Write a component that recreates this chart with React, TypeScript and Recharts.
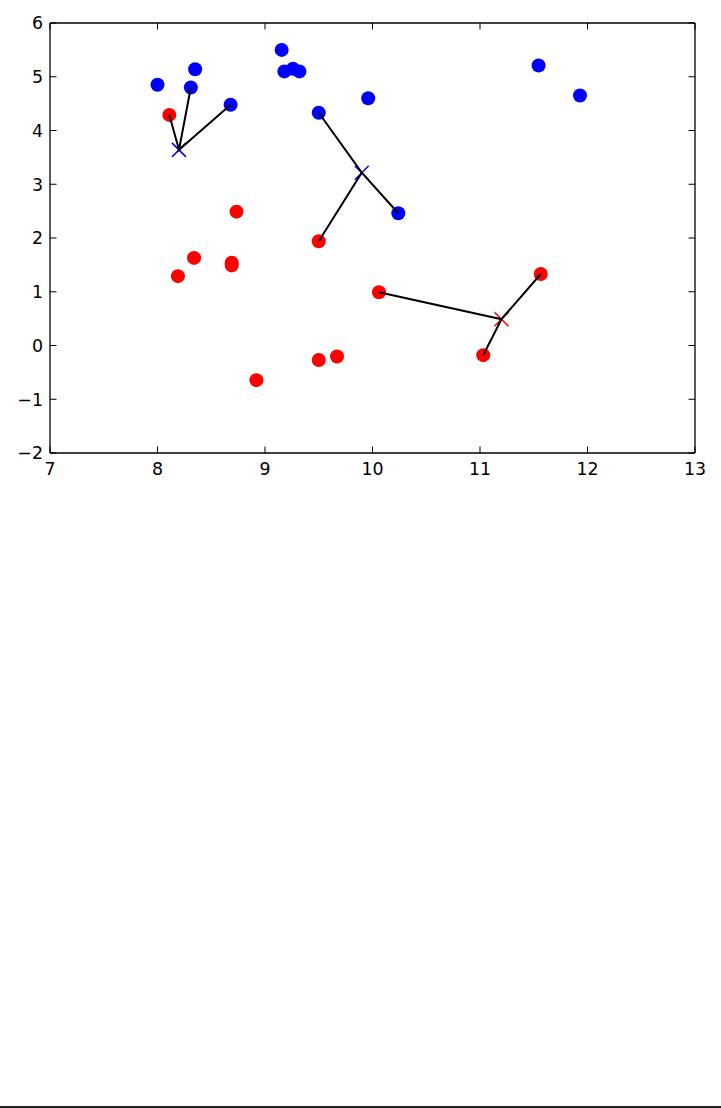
import { Scatter, ScatterChart, XAxis, YAxis } from "recharts";

// blue cluster points
const blueX = [8.0, 8.31, 8.35, 8.68, 9.155, 9.18, 9.26, 9.32, 9.5, 9.96, 10.24, 11.545, 11.93];
const blueY = [4.85, 4.8, 5.14, 4.48, 5.5, 5.1, 5.15, 5.1, 4.33, 4.6, 2.46, 5.21, 4.65];

// red cluster points
const redX = [8.11, 8.735, 9.5, 8.19, 8.34, 8.69, 8.69, 8.92, 9.5, 9.67, 10.06, 11.03, 11.565];
const redY = [4.29, 2.49, 1.94, 1.29, 1.63, 1.54, 1.49, -0.645, -0.27, -0.205, 0.99, -0.18, 1.33];

// cross markers and the points each one is joined to
const crossX = [8.2, 9.9, 11.2];
const crossY = [3.64, 3.215, 0.49];
const crossColor = ["blue", "blue", "red"];
const linkSet = [
  ["red", "blue", "blue"],
  ["blue", "blue", "red"],
  ["red", "red", "red"],
];
const linkIdx = [
  [0, 1, 3],
  [8, 10, 2],
  [10, 11, 12],
];

const xTicks = [7, 8, 9, 10, 11, 12, 13];
const yTicks = [-2, -1, 0, 1, 2, 3, 4, 5, 6];

const BLUE = "#0000ff";
const RED = "#ff0000";
const FONT = "'DejaVu Sans', sans-serif";

// plot box (page pixels)
const LEFT = 50;
const RIGHT = 695;
const TOP = 23;
const BOTTOM = 453;
const TICK = 6.5;

const toPts = (xs: number[], ys: number[]) => xs.map((x, i) => ({ x, y: ys[i] }));
const bluePts = toPts(blueX, blueY);
const redPts = toPts(redX, redY);

const fmt = (v: number) => (v < 0 ? "\u2212" + Math.abs(v) : String(v));

const Dot = (color: string) => (p: any) => (
  <circle cx={p.cx} cy={p.cy} r={7} fill={color} stroke="none" />
);

const Cross = (p: any) => {
  const c = p.payload.color === "red" ? RED : BLUE;
  const s = 7;
  return (
    <g stroke={c} strokeWidth={1.5}>
      <line x1={p.cx - s} y1={p.cy - s} x2={p.cx + s} y2={p.cy + s} />
      <line x1={p.cx - s} y1={p.cy + s} x2={p.cx + s} y2={p.cy - s} />
    </g>
  );
};

const NoDot = () => <g />;

const BottomTick = (p: any) => (
  <g>
    <line x1={p.x} x2={p.x} y1={BOTTOM} y2={BOTTOM - TICK} stroke="#000" strokeWidth={1} />
    <text x={p.x} y={p.y + 13.5} textAnchor="middle" fontSize={17.4} fontFamily={FONT} fill="#000">
      {fmt(p.payload.value)}
    </text>
  </g>
);

const LeftTick = (p: any) => (
  <g>
    <line x1={LEFT} x2={LEFT + TICK} y1={p.y} y2={p.y} stroke="#000" strokeWidth={1} />
    <text x={p.x} y={p.y + 6.3} textAnchor="end" fontSize={17.4} fontFamily={FONT} fill="#000">
      {fmt(p.payload.value)}
    </text>
  </g>
);

const TopTick = (p: any) => (
  <line x1={p.x} x2={p.x} y1={TOP} y2={TOP + TICK} stroke="#000" strokeWidth={1} />
);

const RightTick = (p: any) => (
  <line x1={RIGHT} x2={RIGHT - TICK} y1={p.y} y2={p.y} stroke="#000" strokeWidth={1} />
);

export default function App() {
  const crosses = crossX.map((x, i) => ({ x, y: crossY[i], color: crossColor[i] }));
  // polyline: end, cross, end, cross, end
  const links = crosses.map((c, k) => {
    const out: { x: number; y: number }[] = [];
    linkIdx[k].forEach((idx, j) => {
      const src = linkSet[k][j] === "red" ? redPts : bluePts;
      if (j > 0) out.push({ x: c.x, y: c.y });
      out.push(src[idx]);
    });
    return out;
  });

  return (
    <div style={{ position: "absolute", left: 0, top: 0, width: 721, height: 1108, background: "#fff" }}>
      <ScatterChart width={721} height={500} margin={{ top: 0, right: 0, bottom: 0, left: 0 }}>
        <XAxis
          xAxisId="b"
          type="number"
          dataKey="x"
          domain={[7, 13]}
          ticks={xTicks}
          allowDataOverflow
          height={47}
          tickSize={0}
          tickMargin={8}
          tickLine={false}
          axisLine={{ stroke: "#000", strokeWidth: 1.3 }}
          tick={<BottomTick />}
          interval={0}
        />
        <XAxis
          xAxisId="t"
          orientation="top"
          type="number"
          dataKey="x"
          domain={[7, 13]}
          ticks={xTicks}
          allowDataOverflow
          height={23}
          tickLine={false}
          axisLine={{ stroke: "#000", strokeWidth: 1.3 }}
          tick={<TopTick />}
          interval={0}
        />
        <YAxis
          yAxisId="l"
          type="number"
          dataKey="y"
          domain={[-2, 6]}
          ticks={yTicks}
          allowDataOverflow
          width={50}
          tickSize={0}
          tickMargin={7}
          tickLine={false}
          axisLine={{ stroke: "#000", strokeWidth: 1.3 }}
          tick={<LeftTick />}
          interval={0}
        />
        <YAxis
          yAxisId="r"
          orientation="right"
          type="number"
          dataKey="y"
          domain={[-2, 6]}
          ticks={yTicks}
          allowDataOverflow
          width={26}
          tickLine={false}
          axisLine={{ stroke: "#000", strokeWidth: 1.3 }}
          tick={<RightTick />}
          interval={0}
        />
        <Scatter xAxisId="b" yAxisId="l" data={bluePts} shape={Dot(BLUE)} isAnimationActive={false} />
        <Scatter xAxisId="b" yAxisId="l" data={redPts} shape={Dot(RED)} isAnimationActive={false} />
        <Scatter xAxisId="b" yAxisId="l" data={crosses} shape={Cross} isAnimationActive={false} />
        {links.map((pts, k) => (
          <Scatter
            key={k}
            xAxisId="b"
            yAxisId="l"
            data={pts}
            fill="#000"
            line={{ stroke: "#000", strokeWidth: 2, fill: "none" }}
            shape={NoDot}
            isAnimationActive={false}
          />
        ))}
      </ScatterChart>
      <div style={{ position: "absolute", left: 0, top: 1106, width: 721, height: 2, background: "#222" }} />
    </div>
  );
}
